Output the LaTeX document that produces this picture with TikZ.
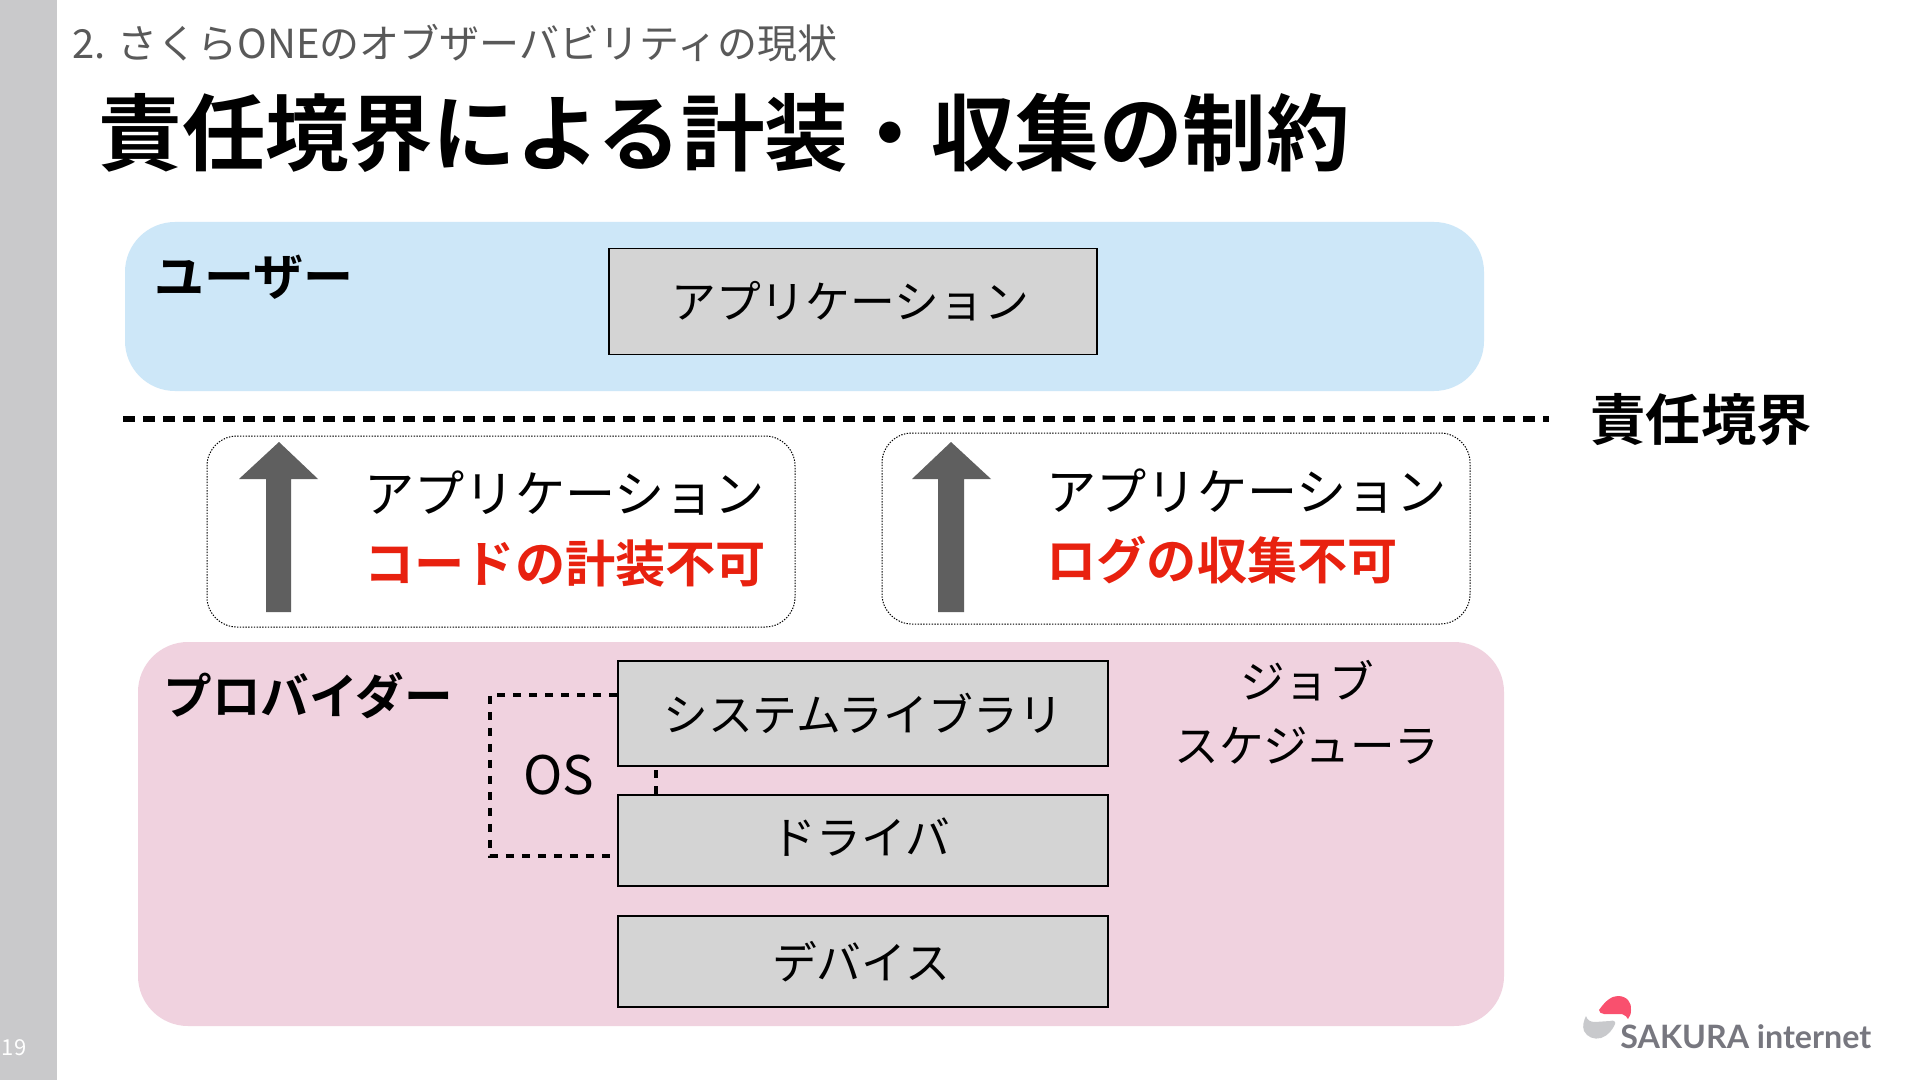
\documentclass[tikz,border=0pt]{standalone}
\usepackage{fontspec}
\setmainfont{Noto Sans CJK JP}[BoldFont={Noto Sans CJK JP Bold}]
\newfontfamily\latofont{Lato}
\usetikzlibrary{calc}
\definecolor{sidegray}{HTML}{C9C9CB}
\definecolor{userblue}{HTML}{CDE7F8}
\definecolor{provpink}{HTML}{F0D2DF}
\definecolor{boxgray}{HTML}{D4D4D4}
\definecolor{arrowgray}{HTML}{5F5F5F}
\definecolor{redtext}{HTML}{E8210F}
\definecolor{headgray}{HTML}{595959}
\definecolor{logogray}{HTML}{77777F}
\definecolor{logored}{HTML}{F9506E}
\definecolor{logolight}{HTML}{C8C9CC}
\newcommand{\pxf}[1]{\fontsize{#1}{#1}\selectfont}
\tikzset{
  x=0.5pt,y=-0.5pt,
  panel/.style={rounded corners=25pt,inner sep=0pt},
  grayblock/.style={draw=black,line width=0.9pt,fill=boxgray,inner sep=0pt,font=\pxf{22.4}},
  note/.style={draw=black,line width=0.5pt,dash pattern=on 0.7pt off 0.7pt,rounded corners=15pt,fill=white,inner sep=0pt},
  txt/.style={inner sep=0pt,anchor=center},
  longdash/.style={line width=2.8pt,dash pattern=on 6pt off 4pt},
  shortdash/.style={line width=2.2pt,dash pattern=on 4pt off 4pt},
}
\begin{document}
\begin{tikzpicture}
\useasboundingbox (0,0) rectangle (1920,1080);
\fill[white] (0,0) rectangle (1920,1080);
\fill[sidegray] (0,0) rectangle (57,1080);
\node[txt,white,font=\pxf{11}] (page) at (14,1048) {19};

\node[txt,anchor=west,headgray,font=\pxf{20}] (head) at (72,43) {2. さくらONEのオブザーバビリティの現状};
\node[txt,anchor=west,font=\pxf{41.8}\bfseries] (title) at (98,133) {責任境界による計装・収集の制約};

\node[panel,fill=userblue,minimum width=679.5pt,minimum height=84.5pt] (user) at (804.5,306.5) {};
\node[txt,anchor=west,font=\pxf{25}\bfseries] (userlbl) at (154,277) {ユーザー};
\node[grayblock,minimum width=244pt,minimum height=53pt] (app) at (853,301.5) {\hspace*{-3pt}アプリケーション};

\coordinate (bl) at (123,419);
\coordinate (br) at (1549,419);
\draw[longdash] (bl) -- (br);
\node[txt,anchor=west,font=\pxf{27.7}\bfseries] (resp) at (1590,420) {責任境界};

\node[note,minimum width=294pt,minimum height=95.5pt] (nl) at (501,531.5) {};
\node[note,minimum width=294pt,minimum height=95.5pt] (nr) at (1176,528.5) {};
\fill[arrowgray] (266,612) -- (291,612) -- (291,479) -- (318,479) -- (279,442) -- (239,479) -- (266,479) -- cycle;
\fill[arrowgray] (938,612) -- (964,612) -- (964,479) -- (991,479) -- (951,442) -- (912,479) -- (938,479) -- cycle;
\node[txt,anchor=west,font=\pxf{25.1}] (t1) at (364,493) {アプリケーション};
\node[txt,anchor=west,redtext,font=\pxf{25.1}\bfseries] (t2) at (364,563) {コードの計装不可};
\node[txt,anchor=west,font=\pxf{25.1}] (t3) at (1046,491) {アプリケーション};
\node[txt,anchor=west,redtext,font=\pxf{25.1}\bfseries] (t4) at (1046,560) {ログの収集不可};

\node[panel,fill=provpink,minimum width=683pt,minimum height=192pt] (prov) at (821,834) {};
\node[txt,anchor=west,font=\pxf{24.3}\bfseries] (provlbl) at (163,696) {プロバイダー};
\node[grayblock,minimum width=245pt,minimum height=52.5pt] (sys) at (863,713.5) {\raisebox{0.5pt}{システムライブラリ}};
\node[grayblock,minimum width=245pt,minimum height=45.5pt] (drv) at (863,840.5) {\raisebox{3.9pt}{\hspace*{-2pt}ドライバ}};
\node[grayblock,minimum width=245pt,minimum height=45.5pt] (dev) at (863,961.5) {\raisebox{0.5pt}{\hspace*{-2pt}デバイス}};
\node[txt,font=\pxf{26.5}] (os) at (559,775) {OS};
\node[txt,font=\pxf{22.3}] (job1) at (1307,681) {ジョブ};
\node[txt,font=\pxf{22.3}] (job2) at (1307,746) {スケジューラ};

\coordinate (o1) at (sys.west |- 0,695);
\coordinate (o2) at (490,695);
\coordinate (o3) at (490,856);
\coordinate (o4) at (drv.west |- 0,856);
\draw[shortdash] (o1) -- (o2) -- (o3) -- (o4);
\draw[shortdash] (656,770) -- (drv.north -| 656,0);

\node[txt,anchor=west,logogray,font=\pxf{16.1}\latofont\bfseries] (logo) at (1620,1037) {SAKURA internet};
\fill[logored] (1599,1010) .. controls (1606,1000) and (1612,996) .. (1618,996) .. controls (1627,996) and (1632,1003) .. (1631,1010) .. controls (1631,1014) and (1630,1016) .. (1628,1019) .. controls (1627,1017) and (1625,1015) .. (1622,1014) -- (1604,1014) .. controls (1601,1014) and (1599,1012) .. (1599,1010) -- cycle;
\fill[logolight] (1586,1016) .. controls (1584,1020) and (1582,1026) .. (1584,1031) .. controls (1587,1037) and (1594,1040) .. (1601,1038) .. controls (1608,1036) and (1613,1029) .. (1615,1024) .. controls (1616,1021) and (1613,1020) .. (1610,1021) -- (1595,1022) .. controls (1590,1022) and (1587,1020) .. (1586,1016) -- cycle;
\end{tikzpicture}
\end{document}
